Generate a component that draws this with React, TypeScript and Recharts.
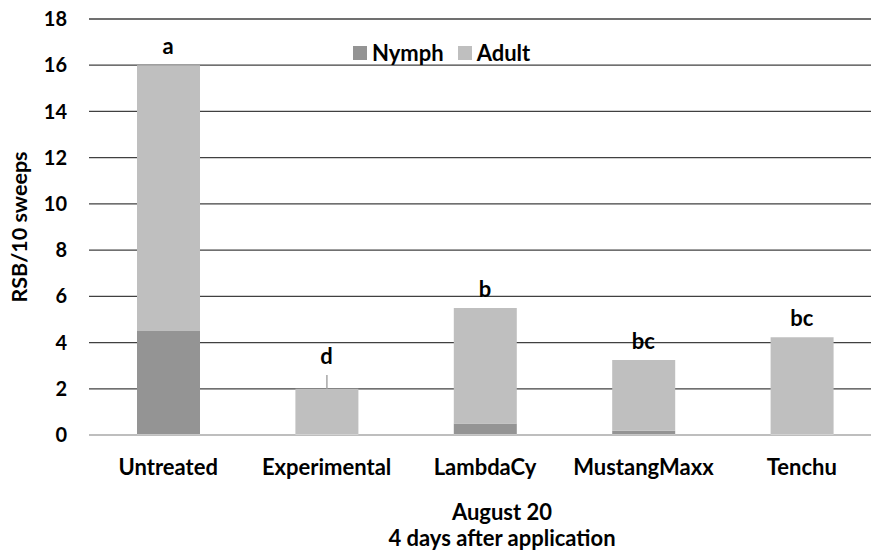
import {
  ComposedChart,
  Bar,
  Line,
  XAxis,
  YAxis,
  CartesianGrid,
  Legend,
  ErrorBar,
  LabelList,
} from "recharts";

const categories = ["Untreated", "Experimental", "LambdaCy", "MustangMaxx", "Tenchu"];
const nymph = [4.5, 0, 0.5, 0.18, 0];
const adult = [11.5, 2.0, 5.0, 3.07, 4.23];
const adultErr: (number | [number, number])[] = [0, [0, 0.6], 0, 0, 0];
const letters = ["a", "d", "b", "bc", "bc"];
const yTicks = [0, 2, 4, 6, 8, 10, 12, 14, 16, 18];
const legendOrder = ["Nymph", "Adult"];

const FONT = "Lato, 'Open Sans', sans-serif";

const data = categories.map((name, i) => {
  const e = adultErr[i];
  const up = Array.isArray(e) ? e[1] : e;
  return {
    name,
    nymph: nymph[i],
    adult: adult[i],
    err: e,
    letterY: nymph[i] + adult[i] + up,
    letter: letters[i],
  };
});

function LegendBox({ payload }: any) {
  const items = legendOrder
    .map((n) => (payload || []).find((p: any) => p.value === n))
    .filter(Boolean);
  return (
    <div style={{ display: "flex", alignItems: "center", fontFamily: FONT, fontWeight: 700, fontSize: 22, color: "#000", lineHeight: "22px" }}>
      {items.map((p: any) => (
        <div key={p.value} style={{ display: "flex", alignItems: "center", marginRight: 14 }}>
          <span style={{ width: 14, height: 14, background: p.color, display: "inline-block", marginRight: 5 }} />
          <span>{p.value}</span>
        </div>
      ))}
    </div>
  );
}

function LetterLabel(props: any) {
  const { x, y, index } = props;
  return (
    <text x={x} y={y - 11} textAnchor="middle" fontFamily={FONT} fontWeight={700} fontSize={22} fill="#000">
      {letters[index]}
    </text>
  );
}

function XTitle(props: any) {
  const vb = props.viewBox;
  const cx = vb.x + vb.width / 2 + 17;
  return (
    <g fontFamily={FONT} fontWeight={700} fontSize={22} fill="#000">
      <text x={cx} y={520} textAnchor="middle">August 20</text>
      <text x={cx} y={546} textAnchor="middle">4 days after application</text>
    </g>
  );
}

function YTitle(props: any) {
  const vb = props.viewBox;
  const cy = vb.y + vb.height / 2;
  return (
    <text
      x={27}
      y={cy}
      transform={`rotate(-90, 27, ${cy})`}
      textAnchor="middle"
      fontFamily={FONT}
      fontWeight={700}
      fontSize={21.5}
      fill="#000"
    >
      RSB/10 sweeps
    </text>
  );
}

export default function App() {
  return (
    <div style={{ position: "absolute", left: 0, top: 0, width: 871, height: 554, overflow: "hidden", background: "#fff" }}>
      <ComposedChart width={881} height={554} data={data} margin={{ top: 19, right: 0, left: 0, bottom: 0 }}>
        <CartesianGrid vertical={false} stroke="#404040" strokeWidth={1.3} />
        <XAxis
          dataKey="name"
          height={119}
          tickSize={0}
          tickMargin={24}
          axisLine={{ stroke: "#d9d9d9", strokeWidth: 1.5 }}
          tick={{ fontFamily: FONT, fontWeight: 700, fontSize: 22, fill: "#000" }}
          label={{ content: XTitle }}
        />
        <YAxis
          width={89}
          domain={[0, 18]}
          ticks={yTicks}
          interval={0}
          tickSize={0}
          tickMargin={22}
          axisLine={false}
          tick={{ fontFamily: FONT, fontWeight: 700, fontSize: 20, fill: "#000" }}
          label={{ content: YTitle }}
        />
        <Legend
          layout="horizontal"
          verticalAlign="middle"
          align="center"
          content={LegendBox}
          wrapperStyle={{ top: 42, left: 353, width: "auto", height: "auto" }}
        />
        <Bar dataKey="nymph" name="Nymph" stackId="s" fill="#949494" barSize={63} isAnimationActive={false} />
        <Bar dataKey="adult" name="Adult" stackId="s" fill="#bfbfbf" barSize={63} isAnimationActive={false}>
          <ErrorBar dataKey="err" direction="y" width={0} stroke="#a6a6a6" strokeWidth={1.5} />
        </Bar>
        <Line
          dataKey="letterY"
          stroke="none"
          dot={false}
          activeDot={false}
          legendType="none"
          isAnimationActive={false}
        >
          <LabelList dataKey="letter" content={LetterLabel} />
        </Line>
      </ComposedChart>
    </div>
  );
}
